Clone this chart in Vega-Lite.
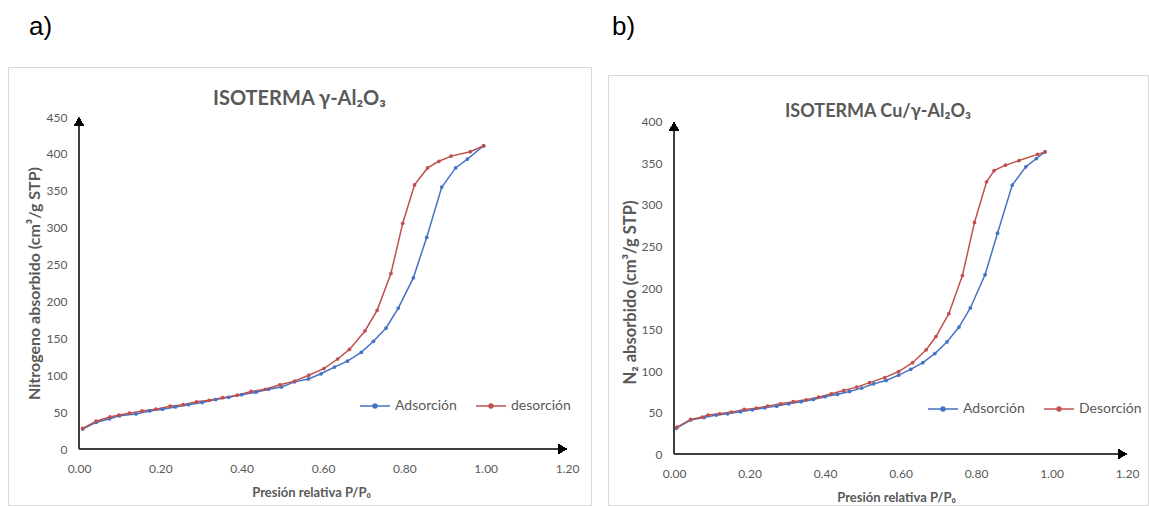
{
  "$schema": "https://vega.github.io/schema/vega-lite/v6.json",
  "padding": {"left": 7, "top": 13, "right": 0, "bottom": 0},
  "spacing": 15,
  "background": "white",
  "resolve": {"scale": {"color": "independent"}, "legend": {"color": "independent"}},
  "config": {
    "view": {"stroke": "#d9d9d9", "strokeWidth": 1},
    "font": "Lato",
    "axis": {"grid": false, "domain": false, "ticks": false, "labelFont": "Lato", "labelFontSize": 12, "labelColor": "#595959", "titleFont": "Lato", "titleFontSize": 13, "titleFontWeight": "bold", "titleColor": "#595959", "labelFlush": false, "labelOverlap": false}
  },
  "datasets": {
    "a": [
      {"serie": "Adsorción", "p": 0.009, "v": 27}, {"serie": "Adsorción", "p": 0.042, "v": 36}, {"serie": "Adsorción", "p": 0.075, "v": 41}, {"serie": "Adsorción", "p": 0.10, "v": 45}, {"serie": "Adsorción", "p": 0.14, "v": 47.5}, {"serie": "Adsorción", "p": 0.174, "v": 51.6}, {"serie": "Adsorción", "p": 0.205, "v": 54}, {"serie": "Adsorción", "p": 0.237, "v": 57}, {"serie": "Adsorción", "p": 0.269, "v": 60}, {"serie": "Adsorción", "p": 0.303, "v": 63}, {"serie": "Adsorción", "p": 0.336, "v": 67}, {"serie": "Adsorción", "p": 0.368, "v": 70}, {"serie": "Adsorción", "p": 0.40, "v": 73.6}, {"serie": "Adsorción", "p": 0.435, "v": 77}, {"serie": "Adsorción", "p": 0.466, "v": 81}, {"serie": "Adsorción", "p": 0.498, "v": 84}, {"serie": "Adsorción", "p": 0.53, "v": 91}, {"serie": "Adsorción", "p": 0.564, "v": 95}, {"serie": "Adsorción", "p": 0.595, "v": 102}, {"serie": "Adsorción", "p": 0.628, "v": 111}, {"serie": "Adsorción", "p": 0.66, "v": 119}, {"serie": "Adsorción", "p": 0.694, "v": 131}, {"serie": "Adsorción", "p": 0.724, "v": 146}, {"serie": "Adsorción", "p": 0.755, "v": 164}, {"serie": "Adsorción", "p": 0.785, "v": 191}, {"serie": "Adsorción", "p": 0.822, "v": 232}, {"serie": "Adsorción", "p": 0.855, "v": 287}, {"serie": "Adsorción", "p": 0.892, "v": 355}, {"serie": "Adsorción", "p": 0.926, "v": 381}, {"serie": "Adsorción", "p": 0.955, "v": 393}, {"serie": "Adsorción", "p": 0.995, "v": 411},
      {"serie": "desorción", "p": 0.009, "v": 28}, {"serie": "desorción", "p": 0.042, "v": 37.7}, {"serie": "desorción", "p": 0.076, "v": 43.5}, {"serie": "desorción", "p": 0.098, "v": 46}, {"serie": "desorción", "p": 0.124, "v": 48.5}, {"serie": "desorción", "p": 0.155, "v": 51.6}, {"serie": "desorción", "p": 0.189, "v": 54}, {"serie": "desorción", "p": 0.224, "v": 58}, {"serie": "desorción", "p": 0.256, "v": 60}, {"serie": "desorción", "p": 0.289, "v": 64}, {"serie": "desorción", "p": 0.32, "v": 66}, {"serie": "desorción", "p": 0.353, "v": 69.6}, {"serie": "desorción", "p": 0.389, "v": 73}, {"serie": "desorción", "p": 0.423, "v": 78}, {"serie": "desorción", "p": 0.458, "v": 81}, {"serie": "desorción", "p": 0.494, "v": 87}, {"serie": "desorción", "p": 0.53, "v": 92}, {"serie": "desorción", "p": 0.565, "v": 100}, {"serie": "desorción", "p": 0.602, "v": 109}, {"serie": "desorción", "p": 0.636, "v": 122}, {"serie": "desorción", "p": 0.665, "v": 135}, {"serie": "desorción", "p": 0.703, "v": 160}, {"serie": "desorción", "p": 0.733, "v": 188}, {"serie": "desorción", "p": 0.767, "v": 238}, {"serie": "desorción", "p": 0.796, "v": 306}, {"serie": "desorción", "p": 0.825, "v": 358}, {"serie": "desorción", "p": 0.857, "v": 381}, {"serie": "desorción", "p": 0.885, "v": 390}, {"serie": "desorción", "p": 0.915, "v": 397}, {"serie": "desorción", "p": 0.962, "v": 403}, {"serie": "desorción", "p": 0.995, "v": 411}
    ],
    "b": [
      {"serie": "Adsorción", "p": 0.006, "v": 31}, {"serie": "Adsorción", "p": 0.044, "v": 41}, {"serie": "Adsorción", "p": 0.08, "v": 44}, {"serie": "Adsorción", "p": 0.112, "v": 47}, {"serie": "Adsorción", "p": 0.142, "v": 48.5}, {"serie": "Adsorción", "p": 0.176, "v": 51}, {"serie": "Adsorción", "p": 0.208, "v": 53.3}, {"serie": "Adsorción", "p": 0.241, "v": 55.7}, {"serie": "Adsorción", "p": 0.272, "v": 57.7}, {"serie": "Adsorción", "p": 0.304, "v": 60.5}, {"serie": "Adsorción", "p": 0.337, "v": 63}, {"serie": "Adsorción", "p": 0.369, "v": 65.7}, {"serie": "Adsorción", "p": 0.40, "v": 69}, {"serie": "Adsorción", "p": 0.433, "v": 72}, {"serie": "Adsorción", "p": 0.465, "v": 75.4}, {"serie": "Adsorción", "p": 0.497, "v": 79.4}, {"serie": "Adsorción", "p": 0.529, "v": 84.6}, {"serie": "Adsorción", "p": 0.562, "v": 88.6}, {"serie": "Adsorción", "p": 0.595, "v": 95}, {"serie": "Adsorción", "p": 0.627, "v": 102}, {"serie": "Adsorción", "p": 0.659, "v": 110}, {"serie": "Adsorción", "p": 0.691, "v": 121}, {"serie": "Adsorción", "p": 0.723, "v": 135}, {"serie": "Adsorción", "p": 0.755, "v": 153}, {"serie": "Adsorción", "p": 0.785, "v": 176}, {"serie": "Adsorción", "p": 0.824, "v": 216}, {"serie": "Adsorción", "p": 0.857, "v": 266}, {"serie": "Adsorción", "p": 0.896, "v": 324}, {"serie": "Adsorción", "p": 0.932, "v": 346}, {"serie": "Adsorción", "p": 0.96, "v": 356}, {"serie": "Adsorción", "p": 0.983, "v": 364},
      {"serie": "Desorción", "p": 0.008, "v": 32.5}, {"serie": "Desorción", "p": 0.044, "v": 41.7}, {"serie": "Desorción", "p": 0.075, "v": 44.5}, {"serie": "Desorción", "p": 0.09, "v": 47}, {"serie": "Desorción", "p": 0.121, "v": 48.5}, {"serie": "Desorción", "p": 0.152, "v": 50.5}, {"serie": "Desorción", "p": 0.186, "v": 53.7}, {"serie": "Desorción", "p": 0.218, "v": 55.3}, {"serie": "Desorción", "p": 0.248, "v": 57.7}, {"serie": "Desorción", "p": 0.282, "v": 60.5}, {"serie": "Desorción", "p": 0.316, "v": 63}, {"serie": "Desorción", "p": 0.35, "v": 65.3}, {"serie": "Desorción", "p": 0.383, "v": 68.5}, {"serie": "Desorción", "p": 0.417, "v": 72.5}, {"serie": "Desorción", "p": 0.45, "v": 76.6}, {"serie": "Desorción", "p": 0.484, "v": 80.6}, {"serie": "Desorción", "p": 0.518, "v": 86}, {"serie": "Desorción", "p": 0.558, "v": 92}, {"serie": "Desorción", "p": 0.595, "v": 99.4}, {"serie": "Desorción", "p": 0.632, "v": 110}, {"serie": "Desorción", "p": 0.668, "v": 125.5}, {"serie": "Desorción", "p": 0.694, "v": 141.5}, {"serie": "Desorción", "p": 0.728, "v": 169}, {"serie": "Desorción", "p": 0.764, "v": 215}, {"serie": "Desorción", "p": 0.796, "v": 279}, {"serie": "Desorción", "p": 0.828, "v": 328}, {"serie": "Desorción", "p": 0.848, "v": 341.5}, {"serie": "Desorción", "p": 0.878, "v": 348}, {"serie": "Desorción", "p": 0.914, "v": 353.5}, {"serie": "Desorción", "p": 0.963, "v": 361}, {"serie": "Desorción", "p": 0.983, "v": 364}
    ]
  },
  "hconcat": [
    {
      "title": {"text": "a)", "anchor": "start", "font": "Liberation Sans", "fontSize": 26, "fontWeight": "normal", "color": "#000000", "dx": 21, "offset": 6, "baseline": "alphabetic", "frame": "group"},
      "vconcat": [
        {
          "width": 583,
          "height": 438,
          "title": {"text": "ISOTERMA γ-Al₂O₃", "offset": -58, "baseline": "alphabetic", "frame": "group", "anchor": "middle", "font": "Lato", "fontSize": 20, "fontWeight": "bold", "color": "#595959"},
          "data": {"name": "a"},
          "layer": [
            {
              "mark": {"type": "line", "strokeWidth": 1.5, "point": {"filled": true, "size": 14}},
              "encoding": {
                "x": {"field": "p", "type": "quantitative", "scale": {"domain": [-0.1746, 1.2589], "nice": false, "zero": false},
                  "axis": {"values": [0, 0.2, 0.4, 0.6, 0.8, 1, 1.2], "format": ".2f", "offset": -56, "labelPadding": 14, "title": "Presión relativa P/P₀", "titleX": 303, "titleY": 43, "titleBaseline": "middle"}},
                "y": {"field": "v", "type": "quantitative", "scale": {"domain": [-75.9, 517.8], "nice": false, "zero": false},
                  "axis": {"values": [0, 50, 100, 150, 200, 250, 300, 350, 400, 450], "offset": -71, "labelPadding": 12, "title": "Nitrogeno absorbido (cm³/g STP)", "titleX": -45, "titleY": 216, "titleBaseline": "middle", "titleFontSize": 16}},
                "color": {"field": "serie", "type": "nominal", "scale": {"domain": ["Adsorción", "desorción"], "range": ["#4472C4", "#C0504D"]},
                  "legend": {"orient": "none", "legendX": 351, "legendY": 323, "direction": "horizontal", "title": null, "symbolType": "M-1,0L1,0M-0.13,0A0.13,0.13 0 1,1 0.13,0A0.13,0.13 0 1,1 -0.13,0Z", "symbolSize": 900, "symbolStrokeWidth": 1.5, "labelFont": "Lato", "labelFontSize": 14, "labelColor": "#595959", "labelOffset": 4, "columnPadding": 16}}
              }
            },
            {
              "mark": {"type": "rule", "color": "#404040", "strokeWidth": 1.6},
              "encoding": {
                "x": {"datum": 0, "type": "quantitative", "scale": {"domain": [-0.1746, 1.2589], "nice": false, "zero": false}},
                "x2": {"datum": 1.19},
                "y": {"datum": 0, "type": "quantitative", "scale": {"domain": [-75.9, 517.8], "nice": false, "zero": false}}
              }
            },
            {
              "mark": {"type": "rule", "color": "#404040", "strokeWidth": 1.6},
              "encoding": {
                "x": {"datum": 0, "type": "quantitative", "scale": {"domain": [-0.1746, 1.2589], "nice": false, "zero": false}},
                "y": {"datum": 0, "type": "quantitative", "scale": {"domain": [-75.9, 517.8], "nice": false, "zero": false}},
                "y2": {"datum": 444}
              }
            },
            {
              "mark": {"type": "point", "shape": "triangle-right", "filled": true, "size": 80, "color": "#000000", "opacity": 1},
              "encoding": {
                "x": {"datum": 1.189, "type": "quantitative", "scale": {"domain": [-0.1746, 1.2589], "nice": false, "zero": false}},
                "y": {"datum": 0, "type": "quantitative", "scale": {"domain": [-75.9, 517.8], "nice": false, "zero": false}}
              }
            },
            {
              "mark": {"type": "point", "shape": "triangle-up", "filled": true, "size": 80, "color": "#000000", "opacity": 1},
              "encoding": {
                "x": {"datum": 0, "type": "quantitative", "scale": {"domain": [-0.1746, 1.2589], "nice": false, "zero": false}},
                "y": {"datum": 443.9, "type": "quantitative", "scale": {"domain": [-75.9, 517.8], "nice": false, "zero": false}}
              }
            }
          ]
        }
      ]
    },
    {
      "title": {"text": "b)", "anchor": "start", "font": "Liberation Sans", "fontSize": 26, "fontWeight": "normal", "color": "#000000", "dx": 4, "offset": 6, "baseline": "alphabetic", "frame": "group"},
      "spacing": 6,
      "vconcat": [
        {
          "width": 540,
          "height": 1,
          "view": {"stroke": null},
          "data": {"values": []},
          "mark": "point",
          "encoding": {}
        },
        {
          "width": 540,
          "height": 430,
          "title": {"text": "ISOTERMA Cu/γ-Al₂O₃", "offset": -60, "baseline": "alphabetic", "frame": "group", "anchor": "middle", "font": "Lato", "fontSize": 18, "fontWeight": "bold", "color": "#595959"},
          "data": {"name": "b"},
          "layer": [
            {
              "mark": {"type": "line", "strokeWidth": 1.5, "point": {"filled": true, "size": 14}},
              "encoding": {
                "x": {"field": "p", "type": "quantitative", "scale": {"domain": [-0.1748, 1.2556], "nice": false, "zero": false},
                  "axis": {"values": [0, 0.2, 0.4, 0.6, 0.8, 1, 1.2], "format": ".2f", "offset": -51, "labelPadding": 14, "title": "Presión relativa P/P₀", "titleX": 288, "titleY": 43, "titleBaseline": "middle"}},
                "y": {"field": "v", "type": "quantitative", "scale": {"domain": [-61.4, 456.6], "nice": false, "zero": false},
                  "axis": {"values": [0, 50, 100, 150, 200, 250, 300, 350, 400], "offset": -66, "labelPadding": 12, "title": "N₂ absorbido (cm³/g STP)", "titleX": -44, "titleY": 217, "titleBaseline": "middle", "titleFontSize": 16.5}},
                "color": {"field": "serie", "type": "nominal", "scale": {"domain": ["Adsorción", "Desorción"], "range": ["#4472C4", "#C0504D"]},
                  "legend": {"orient": "none", "legendX": 319, "legendY": 326, "direction": "horizontal", "title": null, "symbolType": "M-1,0L1,0M-0.13,0A0.13,0.13 0 1,1 0.13,0A0.13,0.13 0 1,1 -0.13,0Z", "symbolSize": 900, "symbolStrokeWidth": 1.5, "labelFont": "Lato", "labelFontSize": 14, "labelColor": "#595959", "labelOffset": 4, "columnPadding": 16}}
              }
            },
            {
              "mark": {"type": "rule", "color": "#404040", "strokeWidth": 1.6},
              "encoding": {
                "x": {"datum": 0, "type": "quantitative", "scale": {"domain": [-0.1748, 1.2556], "nice": false, "zero": false}},
                "x2": {"datum": 1.19},
                "y": {"datum": 0, "type": "quantitative", "scale": {"domain": [-61.4, 456.6], "nice": false, "zero": false}}
              }
            },
            {
              "mark": {"type": "rule", "color": "#404040", "strokeWidth": 1.6},
              "encoding": {
                "x": {"datum": 0, "type": "quantitative", "scale": {"domain": [-0.1748, 1.2556], "nice": false, "zero": false}},
                "y": {"datum": 0, "type": "quantitative", "scale": {"domain": [-61.4, 456.6], "nice": false, "zero": false}},
                "y2": {"datum": 394}
              }
            },
            {
              "mark": {"type": "point", "shape": "triangle-right", "filled": true, "size": 80, "color": "#000000", "opacity": 1},
              "encoding": {
                "x": {"datum": 1.188, "type": "quantitative", "scale": {"domain": [-0.1748, 1.2556], "nice": false, "zero": false}},
                "y": {"datum": 0, "type": "quantitative", "scale": {"domain": [-61.4, 456.6], "nice": false, "zero": false}}
              }
            },
            {
              "mark": {"type": "point", "shape": "triangle-up", "filled": true, "size": 80, "color": "#000000", "opacity": 1},
              "encoding": {
                "x": {"datum": 0, "type": "quantitative", "scale": {"domain": [-0.1748, 1.2556], "nice": false, "zero": false}},
                "y": {"datum": 394.6, "type": "quantitative", "scale": {"domain": [-61.4, 456.6], "nice": false, "zero": false}}
              }
            }
          ]
        }
      ]
    }
  ]
}
